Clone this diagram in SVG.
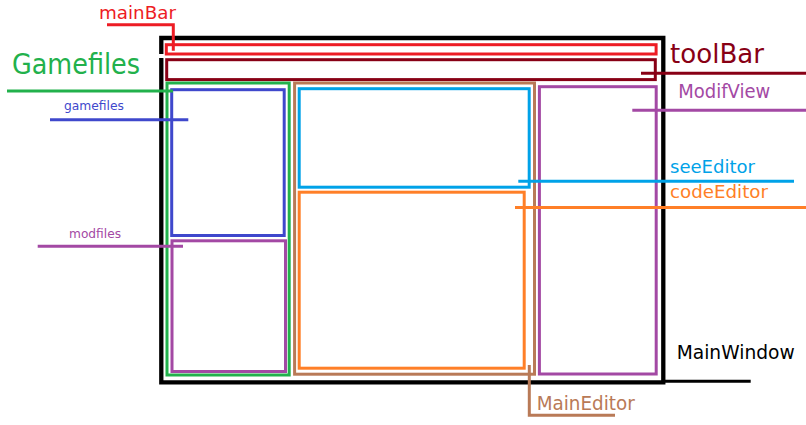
<svg xmlns="http://www.w3.org/2000/svg" width="806" height="425" viewBox="0 0 806 425">
<style>
  .box { fill: none; stroke-width: 3; }
  .lead { fill: none; stroke-width: 3; }
  text { font-family: "DejaVu Sans", "Liberation Sans", sans-serif; }
  .red { stroke: #ed1c24; } .tred { fill: #ed1c24; }
  .dred { stroke: #880015; } .tdred { fill: #880015; }
  .green { stroke: #22b14c; } .tgreen { fill: #22b14c; }
  .blue { stroke: #3f48cc; } .tblue { fill: #3f48cc; }
  .purple { stroke: #a349a4; } .tpurple { fill: #a349a4; }
  .cyan { stroke: #00a2e8; } .tcyan { fill: #00a2e8; }
  .orange { stroke: #ff7f27; } .torange { fill: #ff7f27; }
  .brown { stroke: #b97a57; } .tbrown { fill: #b97a57; }
</style>
<rect width="806" height="425" fill="#ffffff"/>

<g id="MainWindow">
  <path d="M161.3,54 V38 H663.3 V382.3 H161.3 V58" fill="none" stroke="#000" stroke-width="4.3"/>
  <text x="676.7" y="359.3" font-size="19" textLength="118" lengthAdjust="spacingAndGlyphs" fill="#000">MainWindow</text>
</g>

<g id="mainBar">
  <rect class="box red" x="166.3" y="44.7" width="489.8" height="9.3" stroke-width="2.8"/>
  <text class="tred" x="99" y="18.5" font-size="18" textLength="77" lengthAdjust="spacingAndGlyphs">mainBar</text>
</g>

<g id="toolBar">
  <rect class="box dred" x="166.7" y="59.7" width="488.6" height="19.9" stroke-width="2.8"/>
  <text class="tdred" x="670" y="63.3" font-size="27" textLength="94" lengthAdjust="spacingAndGlyphs">toolBar</text>
</g>

<g id="Gamefiles">
  <rect class="box green" x="167" y="83" width="122.2" height="292" stroke-width="3.3"/>
  <text class="tgreen" x="12" y="74" font-size="28" textLength="128" lengthAdjust="spacingAndGlyphs">Gamefiles</text>
</g>

<g id="gamefiles">
  <rect class="box blue" x="171.7" y="89.7" width="112.5" height="145.8" stroke-width="2.9"/>
  <text class="tblue" x="64" y="109.5" font-size="12.5" textLength="60" lengthAdjust="spacingAndGlyphs">gamefiles</text>
</g>

<g id="modfiles">
  <rect class="box purple" x="172" y="240.8" width="113.5" height="130.7" stroke-width="3"/>
  <text class="tpurple" x="69" y="238" font-size="13" textLength="52" lengthAdjust="spacingAndGlyphs">modfiles</text>
</g>

<g id="MainEditor">
  <rect class="box brown" x="294.6" y="83" width="239.9" height="291.2" stroke-width="2.8"/>
  <text class="tbrown" x="536.7" y="410" font-size="19" textLength="98" lengthAdjust="spacingAndGlyphs">MainEditor</text>
</g>

<g id="seeEditor">
  <rect class="box cyan" x="299.2" y="88.7" width="230" height="98.5" stroke-width="3"/>
  <text class="tcyan" x="670" y="173.3" font-size="18" textLength="85" lengthAdjust="spacingAndGlyphs">seeEditor</text>
</g>

<g id="codeEditor">
  <rect class="box orange" x="299.2" y="192.2" width="225" height="176" stroke-width="3"/>
  <text class="torange" x="670" y="198.3" font-size="18" textLength="98" lengthAdjust="spacingAndGlyphs">codeEditor</text>
</g>

<g id="ModifView">
  <rect class="box purple" x="539.4" y="86.7" width="116.8" height="287.3" stroke-width="2.8"/>
  <text class="tpurple" x="678.3" y="98.3" font-size="19" textLength="92" lengthAdjust="spacingAndGlyphs">ModifView</text>
</g>

<g id="connectors">
  <path class="lead red" d="M107,24.7 H173.3 V50.7"/>
  <path class="lead dred" d="M641,73.3 H806"/>
  <path class="lead green" d="M7,91 H173"/>
  <path class="lead blue" d="M50,119.8 H188.3"/>
  <path class="lead purple" d="M37.7,246.3 H183"/>
  <path class="lead purple" d="M632.3,110.3 H806"/>
  <path class="lead cyan" d="M518.3,181.3 H794"/>
  <path class="lead orange" d="M515,207.5 H806"/>
  <path class="lead brown" d="M529.3,365 V415.3 H615"/>
  <path class="lead" stroke="#000" d="M663,381.3 H750.7"/>
</g>
</svg>
